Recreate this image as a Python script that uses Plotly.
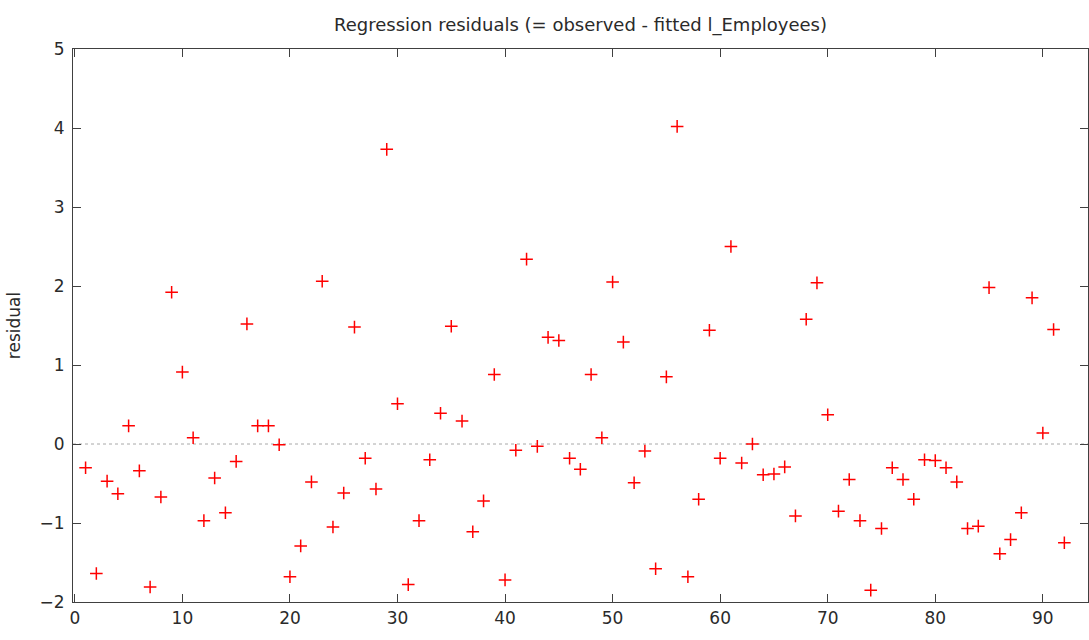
import plotly.graph_objects as go

obs = list(range(1, 93))
residual = [
    -0.30, -1.64, -0.47, -0.63, 0.23, -0.34, -1.81, -0.67, 1.92, 0.91,
    0.08, -0.97, -0.43, -0.87, -0.22, 1.52, 0.23, 0.23, -0.01, -1.68,
    -1.29, -0.48, 2.06, -1.05, -0.62, 1.48, -0.18, -0.57, 3.73, 0.51,
    -1.78, -0.97, -0.20, 0.39, 1.49, 0.29, -1.11, -0.72, 0.88, -1.72,
    -0.08, 2.34, -0.03, 1.35, 1.31, -0.18, -0.32, 0.88, 0.08, 2.05,
    1.29, -0.49, -0.09, -1.58, 0.85, 4.02, -1.68, -0.70, 1.44, -0.18,
    2.50, -0.24, 0.00, -0.39, -0.38, -0.29, -0.91, 1.58, 2.04, 0.37,
    -0.85, -0.45, -0.97, -1.85, -1.07, -0.30, -0.45, -0.70, -0.20, -0.21,
    -0.30, -0.48, -1.07, -1.04, 1.98, -1.39, -1.21, -0.87, 1.85, 0.14,
    1.45, -1.25,
]
x_ticks = [0, 10, 20, 30, 40, 50, 60, 70, 80, 90]
y_ticks = [-2, -1, 0, 1, 2, 3, 4, 5]

FONT = "DejaVu Sans"

fig = go.Figure()
fig.add_trace(go.Scatter(
    x=obs, y=residual, mode="markers",
    marker=dict(symbol="cross-thin", size=9, color="red",
                line=dict(color="red", width=1.5)),
    hoverinfo="x+y", showlegend=False,
))

fig.add_shape(type="line", xref="paper", yref="y", x0=0, x1=1, y0=0, y1=0,
              line=dict(color="#a8a8a8", width=1, dash="dot"), layer="below")

axis_common = dict(
    showgrid=False, zeroline=False, showline=True, mirror="allticks",
    linecolor="#404040", linewidth=1.2, ticks="inside", ticklen=8,
    tickwidth=1.2, tickcolor="#404040",
    tickfont=dict(family=FONT, size=17, color="#2a2a2a"),
)

fig.update_layout(
    width=1089, height=640,
    margin=dict(l=73, r=1, t=49, b=38),
    paper_bgcolor="white", plot_bgcolor="white",
    title=dict(text="Regression residuals (= observed - fitted l_Employees)",
               x=0.5, xref="paper", xanchor="center", y=0.972, yref="container",
               font=dict(family=FONT, size=18, color="#2a2a2a")),
    xaxis=dict(range=[-0.17, 94.2], tickvals=x_ticks, **axis_common),
    yaxis=dict(range=[-2, 5], tickvals=y_ticks, ticklabelstandoff=4,
               title=dict(text="residual", standoff=14,
                          font=dict(family=FONT, size=17, color="#2a2a2a")),
               **axis_common),
)

fig.write_html("out.html")
